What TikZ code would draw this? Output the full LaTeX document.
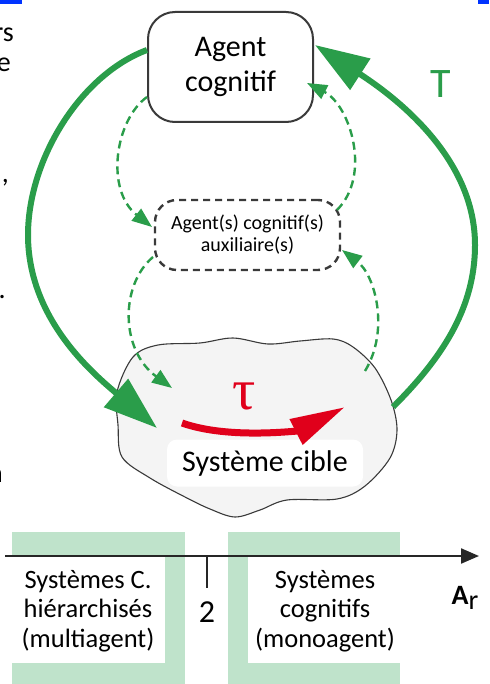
\documentclass[tikz,border=0pt]{standalone}
\usepackage{fontspec}
\setmainfont{Carlito}
\newfontfamily\taufont{Liberation Serif}
\usetikzlibrary{arrows.meta}
\definecolor{gr}{HTML}{2A9D4A}
\definecolor{lgr}{HTML}{BFE3CB}
\definecolor{rd}{HTML}{E0001B}
\definecolor{dk}{HTML}{3A3A3A}
\definecolor{blobfill}{HTML}{F4F4F4}
\definecolor{bl}{HTML}{0033FF}
\tikzset{
  agentbox/.style={draw=dk, line width=2pt, rounded corners=27pt, fill=white, minimum width=165pt, minimum height=110pt, align=center, font=\fontsize{30}{35}\selectfont, inner sep=0pt},
  auxbox/.style={draw=dk, line width=2.4pt, dash pattern=on 7pt off 5pt, rounded corners=22pt, fill=white, minimum width=185pt, minimum height=70pt, align=center, font=\fontsize{20}{22}\selectfont, inner sep=0pt},
  ciblelabel/.style={fill=white, rounded corners=10pt, minimum width=196pt, minimum height=47pt, font=\fontsize{30}{34}\selectfont, inner sep=0pt},
  thickarrow/.style={draw=gr, line width=6pt, -{Triangle[length=54pt,width=36pt]}},
  dasharrow/.style={draw=gr, line width=2.4pt, dash pattern=on 8pt off 5pt, -{Triangle[length=20pt,width=15pt]}},
  bottomtext/.style={align=center, font=\fontsize{26.5}{29.5}\selectfont, inner sep=0pt},
  fragtext/.style={font=\fontsize{28}{34}\selectfont, inner sep=0pt, anchor=base east},
}
\begin{document}
\begin{tikzpicture}[x=1pt,y=-1pt]
\useasboundingbox (0,0) rectangle (489,684);
% blue bars at top corners
\fill[bl] (0,0) rectangle (22,4);
\fill[bl] (478,0) rectangle (489,4);
% clipped text fragments at left edge
\node[fragtext] (f1) at (14,42) {rs};
\node[fragtext] (f2) at (11,72) {e};
\node[fragtext] (f3) at (9,183) {,};
\node[fragtext] (f4) at (6,298) {.};
\node[fragtext] (f5) at (3,482) {n};

% target system blob
\draw[draw=dk, line width=1.1pt, fill=blobfill] plot[smooth cycle, tension=0.55] coordinates {
 (117,392) (118,425) (122,457) (150,478) (185,497) (210,509) (235,517) (260,510) (287,500)
 (337,499) (365,486) (390,458) (397,430) (391,400) (375,368) (353,347) (333,339) (300,341)
 (268,344) (233,338) (200,343) (158,345) (133,357)};
\node[ciblelabel] (cible) at (265,463) {Système cible};

% nodes
\node[agentbox] (agent) at (230.5,67) {Agent\\cognitif};
\node[auxbox] (aux) at (247.5,235) {Agent(s) cognitif(s)\\auxiliaire(s)};

% connector end coordinates
\coordinate (aL) at (147,50);
\coordinate (aR) at (315,45);
\coordinate (aBL) at (147,97);
\coordinate (aBR) at (307,83);
\coordinate (xTL) at (152,227);
\coordinate (xTR) at (337,210);
\coordinate (xBL) at (153,257);
\coordinate (xBR) at (342,250);
\coordinate (cL) at (157,428);
\coordinate (cR) at (393,407);
\coordinate (cTL) at (172,388);
\coordinate (cTR) at (365,371);
\coordinate (tauS) at (182,423);
\coordinate (tauE) at (345,407);

% thick green arcs
\draw[thickarrow] (aL) .. controls (80,75) and (28,160) .. (28,235)
  .. controls (28,320) and (95,375) .. (cL);
\draw[thickarrow] (cR) .. controls (440,360) and (475,310) .. (475,245)
  .. controls (475,160) and (400,100) .. (aR);
\node[text=gr, font=\fontsize{42}{42}\selectfont, inner sep=0pt] (T) at (441,84) {T};

% dashed green arrows
\draw[dasharrow] (aBL) .. controls (115,120) and (105,190) .. (xTL);
\draw[dasharrow] (xTR) .. controls (372,175) and (350,105) .. (aBR);
\draw[dasharrow] (xBL) .. controls (120,285) and (120,350) .. (cTL);
\draw[dasharrow] (cTR) .. controls (390,330) and (375,275) .. (xBR);

% red tau arrow
\draw[rd, line width=7pt, -{Triangle[length=55pt,width=27pt]}] (tauS) .. controls (230,440) and (300,430) .. (tauE);
\node[text=rd, font=\taufont\fontsize{58}{58}\selectfont, inner sep=0pt] (tau) at (244,396) {τ};

% bottom scale
\fill[lgr] (12,532) rectangle (185,684);
\fill[white] (12,557) rectangle (165,663);
\fill[lgr] (228,532) rectangle (400,684);
\fill[white] (248,557) rectangle (400,663);
\coordinate (axS) at (5,556);
\coordinate (axE) at (479,556);
\draw[draw=black!85, line width=2.2pt, -{Triangle[length=18pt,width=15pt]}] (axS) -- (axE);
\coordinate (tk1) at (207,556);
\coordinate (tk2) at (207,588);
\draw[draw=black!85, line width=2pt] (tk1) -- (tk2);
\node[bottomtext, font=\fontsize{32}{32}\selectfont] (two) at (207,612) {2};
\node[bottomtext] (left) at (88,611) {Systèmes C.\\hiérarchisés\\(multiagent)};
\node[bottomtext] (right) at (325,611) {Systèmes\\cognitifs\\(monoagent)};
\node[font=\fontsize{28}{28}\selectfont, inner sep=0pt] (Ar) at (465,598) {\textbf{A}\raisebox{-5pt}{r}};
\end{tikzpicture}
\end{document}
